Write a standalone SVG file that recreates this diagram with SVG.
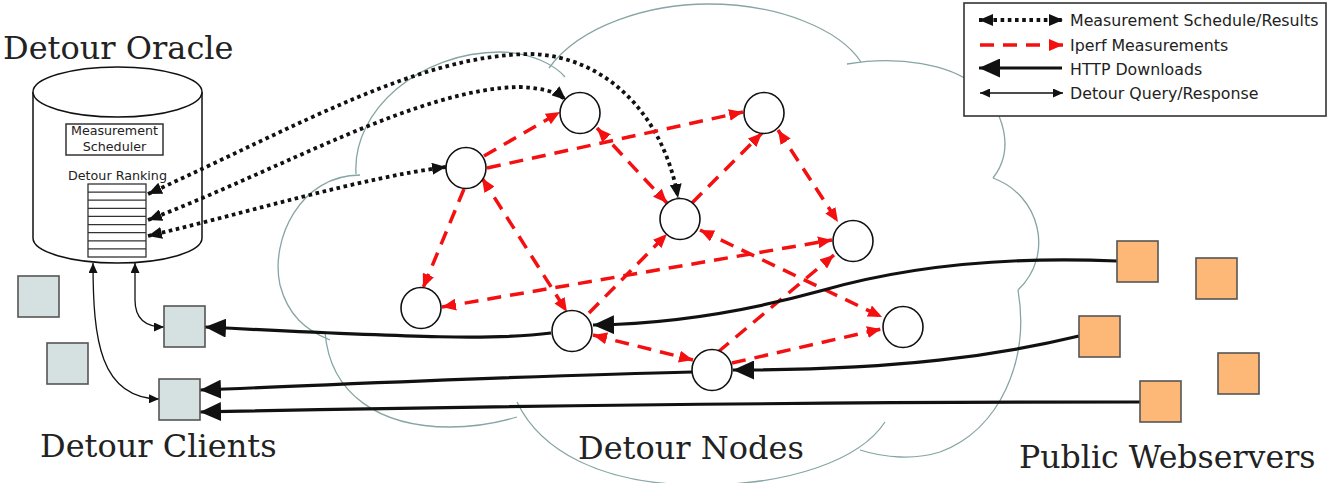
<svg xmlns="http://www.w3.org/2000/svg" width="1329" height="483" viewBox="0 0 1329 483">
<style>
.title{font-family:"DejaVu Serif","Liberation Serif",serif;font-size:32px;fill:#222}
.small{font-family:"DejaVu Sans","Liberation Sans",sans-serif;font-size:12.7px;fill:#222}
.leg{font-family:"DejaVu Sans","Liberation Sans",sans-serif;font-size:15.8px;fill:#222}
.cloud{fill:none;stroke:#86a5a3;stroke-width:1.3}
.node{fill:#fff;stroke:#111;stroke-width:1.6}
.client{fill:#d5e0e1;stroke:#555;stroke-width:1.6}
.web{fill:#fdb878;stroke:#555;stroke-width:1.6}
.red{fill:none;stroke:#f41010;stroke-width:3.5;stroke-dasharray:14 9}
.dot{fill:none;stroke:#111;stroke-width:3.8;stroke-dasharray:3.6 3.6}
.http{fill:none;stroke:#111;stroke-width:3.2}
.query{fill:none;stroke:#111;stroke-width:1.3}
</style>
<defs>
<marker id="ar" markerUnits="userSpaceOnUse" markerWidth="14" markerHeight="12" refX="14" refY="6" orient="auto-start-reverse"><path d="M0,0 L14,6 L0,12 z" fill="#f41010"/></marker>
<marker id="ad" markerUnits="userSpaceOnUse" markerWidth="14" markerHeight="12" refX="14" refY="6" orient="auto-start-reverse"><path d="M0,0 L14,6 L0,12 z" fill="#111"/></marker>
<marker id="ah" markerUnits="userSpaceOnUse" markerWidth="21" markerHeight="19" refX="21" refY="9.5" orient="auto-start-reverse"><path d="M0,0 L21,9.5 L0,19 z" fill="#111"/></marker>
<marker id="aq" markerUnits="userSpaceOnUse" markerWidth="10" markerHeight="9" refX="10" refY="4.5" orient="auto-start-reverse"><path d="M0,0 L10,4.5 L0,9 z" fill="#111"/></marker>
</defs>

<g id="cloud">
<path class="cloud" d="M356,174 C352,110 420,52 500,52 C530,52 555,65 565,77"/>
<path class="cloud" d="M549,68 C580,25 650,4 708,4 C780,4 840,30 861,62"/>
<path class="cloud" d="M847,64 C900,55 950,65 975,85 C1005,110 1015,150 993,178"/>
<path class="cloud" d="M993,178 C1040,195 1055,255 1018,290"/>
<path class="cloud" d="M1018,290 C1030,360 1000,430 940,452 C915,460 885,458 860,450"/>
<path class="cloud" d="M517,402 C540,450 600,485 700,485 C790,485 860,460 885,422"/>
<path class="cloud" d="M325,332 C330,395 380,427 450,427 C480,427 500,422 517,417"/>
<path class="cloud" d="M360,175 C300,175 270,240 280,285 C288,315 305,330 330,340"/>
</g>

<g id="oracle">
<path d="M33,92 L33,238 A84.5,25 0 0 0 202,238 L202,92" fill="#fff" stroke="#111" stroke-width="1.5"/>
<ellipse cx="117.5" cy="92" rx="84.5" ry="25" fill="#fff" stroke="#111" stroke-width="1.5"/>
<rect x="66" y="124" width="97" height="31" fill="#fff" stroke="#333" stroke-width="1.5"/>
<text class="small" x="114.5" y="135" text-anchor="middle">Measurement</text>
<text class="small" x="114.5" y="151" text-anchor="middle">Scheduler</text>
<text class="small" x="117.5" y="180" text-anchor="middle">Detour Ranking</text>
<rect x="88" y="184" width="58" height="73" fill="#fff" stroke="#333" stroke-width="1.3"/>
<path d="M88,192.1H146M88,200.2H146M88,208.3H146M88,216.4H146M88,224.6H146M88,232.7H146M88,240.8H146M88,248.9H146" stroke="#333" stroke-width="1.2"/>
</g>

<g id="connectors">
<!-- measurement schedule -->
<path class="dot" d="M148,194 C300,125 420,55 530,54 C610,56 665,120 678,198" marker-start="url(#ad)" marker-end="url(#ad)"/>
<path class="dot" d="M148,220 C280,170 420,88 520,87 C545,88 558,93 566,100" marker-start="url(#ad)" marker-end="url(#ad)"/>
<path class="dot" d="M148,236 C250,212 360,178 446,167" marker-start="url(#ad)" marker-end="url(#ad)"/>
<!-- iperf -->
<path class="red" d="M484,156 L560,112" marker-end="url(#ar)"/>
<path class="red" d="M487,168 L743,112" marker-end="url(#ar)"/>
<path class="red" d="M597,128 L667,203" marker-start="url(#ar)" marker-end="url(#ar)"/>
<path class="red" d="M464,189 L423,288" marker-end="url(#ar)"/>
<path class="red" d="M482,178 L567,312" marker-start="url(#ar)" marker-end="url(#ar)"/>
<path class="red" d="M589,313 L667,234" marker-end="url(#ar)"/>
<path class="red" d="M442,307 L832,240" marker-start="url(#ar)" marker-end="url(#ar)"/>
<path class="red" d="M692,203 L762,133" marker-end="url(#ar)"/>
<path class="red" d="M778,130 L838,222" marker-start="url(#ar)" marker-end="url(#ar)"/>
<path class="red" d="M700,230 L882,317" marker-start="url(#ar)" marker-end="url(#ar)"/>
<path class="red" d="M718,352 L834,255" marker-end="url(#ar)"/>
<path class="red" d="M593,335 L693,360" marker-start="url(#ar)" marker-end="url(#ar)"/>
<path class="red" d="M732,363 L881,329" marker-end="url(#ar)"/>
<!-- http -->
<path class="http" d="M1117,261 C1000,256 900,268 820,291 C740,313 660,324 593,325" marker-end="url(#ah)"/>
<path class="http" d="M551,333 C500,340 420,338 205,327" marker-end="url(#ah)"/>
<path class="http" d="M1079,336 C1000,355 900,370 733,370" marker-end="url(#ah)"/>
<path class="http" d="M692,372 C550,375 400,382 200,390" marker-end="url(#ah)"/>
<path class="http" d="M1140,402 C900,402 600,404 200,412" marker-end="url(#ah)"/>
<!-- query -->
<path class="query" d="M135,263 L135,300 Q135,327 164,327" marker-start="url(#aq)" marker-end="url(#aq)"/>
<path class="query" d="M93,263 C93,340 100,398 159,399" marker-start="url(#aq)" marker-end="url(#aq)"/>
</g>

<g id="detour-nodes">
<ellipse class="node" cx="580" cy="113" rx="20" ry="20.5"/>
<ellipse class="node" cx="466" cy="168" rx="20" ry="20.5"/>
<ellipse class="node" cx="764" cy="113" rx="20" ry="20.5"/>
<ellipse class="node" cx="680" cy="219" rx="20" ry="20.5"/>
<ellipse class="node" cx="853" cy="241" rx="20" ry="20.5"/>
<ellipse class="node" cx="421" cy="308" rx="20" ry="20.5"/>
<ellipse class="node" cx="572" cy="331" rx="20" ry="20.5"/>
<ellipse class="node" cx="712" cy="370" rx="20" ry="20.5"/>
<ellipse class="node" cx="903" cy="327" rx="20" ry="20.5"/>
</g>

<g id="clients">
<rect class="client" x="18" y="276" width="41" height="41"/>
<rect class="client" x="47" y="343" width="41" height="41"/>
<rect class="client" x="164" y="306" width="41" height="41"/>
<rect class="client" x="159" y="379" width="41" height="41"/>
</g>

<g id="webservers">
<rect class="web" x="1117" y="241" width="41" height="41"/>
<rect class="web" x="1196" y="258" width="41" height="41"/>
<rect class="web" x="1079" y="316" width="41" height="41"/>
<rect class="web" x="1218" y="353" width="41" height="41"/>
<rect class="web" x="1140" y="381" width="41" height="41"/>
</g>

<g id="legend">
<rect x="964" y="3" width="362" height="113" fill="#fff" stroke="#333" stroke-width="1.6"/>
<path class="dot" d="M979,20 L1063,20" marker-start="url(#ad)" marker-end="url(#ad)"/>
<path class="red" d="M980,45 L1063,45" marker-end="url(#ar)"/>
<path class="http" d="M1062,68 L979,68" marker-end="url(#ah)"/>
<path class="query" d="M980,93 L1063,93" marker-start="url(#aq)" marker-end="url(#aq)"/>
<text class="leg" x="1070" y="26">Measurement Schedule/Results</text>
<text class="leg" x="1070" y="51">Iperf Measurements</text>
<text class="leg" x="1070" y="75">HTTP Downloads</text>
<text class="leg" x="1070" y="99">Detour Query/Response</text>
</g>

<g id="labels">
<text class="title" x="3" y="59">Detour Oracle</text>
<text class="title" x="40" y="457">Detour Clients</text>
<text class="title" x="578" y="459">Detour Nodes</text>
<text class="title" x="1019" y="468" style="font-size:31.6px">Public Webservers</text>
</g>
</svg>
